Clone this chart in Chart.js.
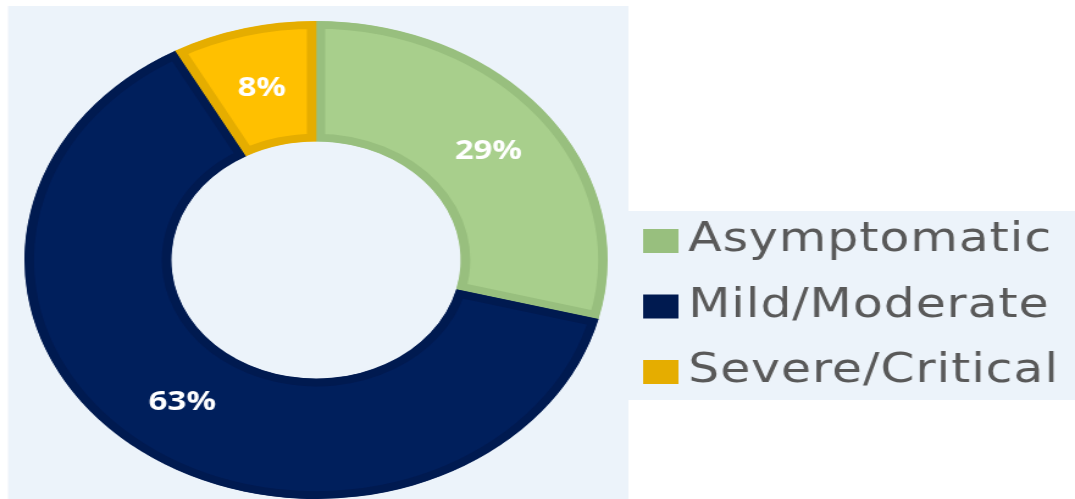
<!DOCTYPE html>
<html>
<head>
<meta charset="utf-8">
<script src="https://cdn.jsdelivr.net/npm/chart.js@4.4.1/dist/chart.umd.min.js"></script>
<style>
  html, body { margin: 0; padding: 0; background: #ffffff; overflow: hidden; width: 1075px; height: 499px; }
  #c { position: absolute; left: 0; top: 0; transform: scaleX(1.2202); transform-origin: 0 0; }
</style>
</head>
<body>
<canvas id="c" width="881" height="499"></canvas>
<script>
const categories = ['Asymptomatic', 'Mild/Moderate', 'Severe/Critical'];
const values = [29, 63, 8];
const valueLabels = ['29%', '63%', '8%'];
const fillColors = ['#a8cf8c', '#001f5c', '#ffc000'];
const borderColors = ['#98bf7e', '#001a50', '#e5ad00'];

const PANEL_BG = '#ecf3fa';

const panelPlugin = {
  id: 'panels',
  beforeDraw(chart) {
    const ctx = chart.ctx;
    ctx.save();
    ctx.fillStyle = '#ffffff';
    ctx.fillRect(0, 0, chart.width, chart.height);
    ctx.fillStyle = PANEL_BG;
    ctx.fillRect(6.6, 6, 508.4, 493);
    ctx.fillRect(514.5, 211, 366.5, 189);
    ctx.restore();
  }
};

const labelPlugin = {
  id: 'valueLabels',
  afterDatasetsDraw(chart) {
    const ctx = chart.ctx;
    const meta = chart.getDatasetMeta(0);
    ctx.save();
    ctx.fillStyle = '#ffffff';
    ctx.font = 'bold 27px "Open Sans"';
    ctx.textAlign = 'center';
    ctx.textBaseline = 'middle';
    meta.data.forEach((arc, i) => {
      const p = arc.tooltipPosition();
      ctx.fillText(valueLabels[i], p.x, p.y + 1);
    });
    ctx.restore();
  }
};

const legendPlugin = {
  id: 'customLegend',
  afterDraw(chart) {
    const ctx = chart.ctx;
    ctx.save();
    ctx.font = '40px "DejaVu Sans"';
    if ('letterSpacing' in ctx) ctx.letterSpacing = '0.8px';
    ctx.textBaseline = 'middle';
    ctx.textAlign = 'left';
    categories.forEach((name, i) => {
      const y = 241 + i * 65.5;
      ctx.fillStyle = borderColors[i];
      ctx.fillRect(527, y - 12, 29, 24);
      ctx.fillStyle = '#595959';
      ctx.fillText(name, 564, y);
    });
    ctx.restore();
  }
};

new Chart(document.getElementById('c'), {
  type: 'doughnut',
  data: {
    labels: categories,
    datasets: [{
      data: values,
      backgroundColor: fillColors,
      borderColor: borderColors,
      borderWidth: 7.5,
      borderAlign: 'inner',
      hoverBorderWidth: 7.5
    }]
  },
  options: {
    responsive: false,
    animation: false,
    cutout: '49.6%',
    layout: { padding: { left: 20, right: 383, top: 21, bottom: 0 } },
    plugins: {
      legend: { display: false },
      tooltip: { enabled: false }
    },
    events: []
  },
  plugins: [panelPlugin, labelPlugin, legendPlugin]
});
</script>
</body>
</html>
